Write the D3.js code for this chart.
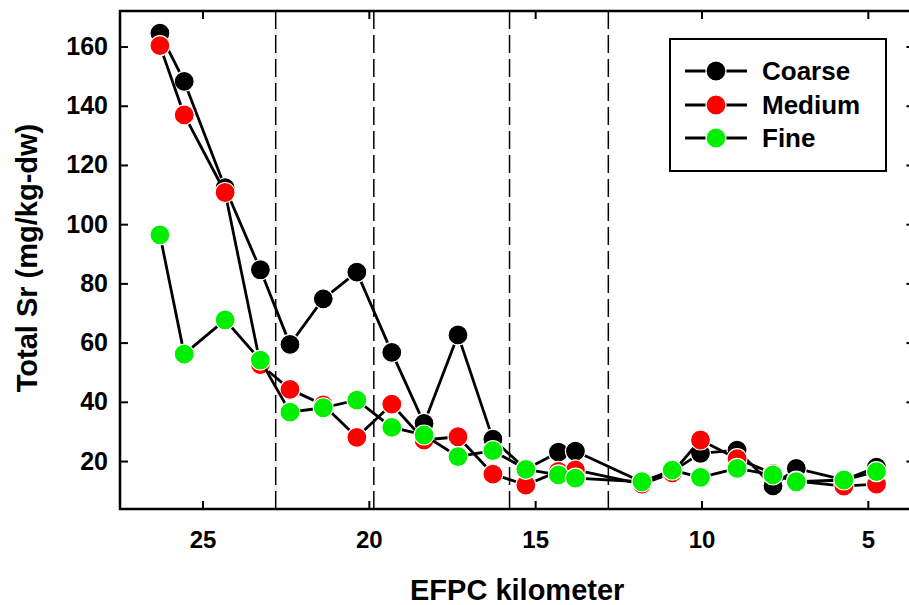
<!DOCTYPE html>
<html>
<head>
<meta charset="utf-8">
<script src="https://cdn.jsdelivr.net/npm/d3@7"></script>
<style>
  html, body { margin: 0; padding: 0; background: #fff; }
  svg { display: block; font-family: "Liberation Sans", Arial, sans-serif; font-weight: bold; }
</style>
</head>
<body>
<svg id="chart" width="909" height="605"></svg>
<script>
// ---- data ----
const km = [26.28, 25.55, 24.32, 23.26, 22.37, 21.37, 20.36, 19.31, 18.34, 17.32, 16.27,
            15.28, 14.30, 13.79, 11.79, 10.88, 10.03, 8.93, 7.85, 7.15, 5.72, 4.74];
const coarse = [164.5, 148.2, 112.3, 84.6, 59.4, 74.8, 83.8, 56.7, 32.7, 62.6, 27.4,
                17.2, 23.0, 23.3, 12.9, 16.5, 22.6, 23.7, 11.6, 17.5, 13.6, 17.9];
const medium = [160.3, 136.9, 110.7, 52.6, 44.2, 39.0, 28.0, 39.2, 27.1, 28.2, 15.6,
                11.9, 16.5, 17.0, 12.2, 16.0, 27.1, 20.8, 15.8, 13.2, 11.5, 12.2];
const fine = [96.4, 56.1, 67.7, 54.1, 36.5, 38.0, 40.6, 31.4, 28.8, 21.5, 23.5,
              17.2, 15.3, 14.2, 13.0, 16.9, 14.5, 17.5, 15.3, 13.0, 13.6, 16.4];
const seriesNames = ["Coarse", "Medium", "Fine"];
const seriesColors = ["#000000", "#ff0000", "#00ee00"];
const dividers = [22.8, 19.85, 15.77, 12.8];
const xTicks = [25, 20, 15, 10, 5];
const yTicks = [20, 40, 60, 80, 100, 120, 140, 160];
const xTitle = "EFPC kilometer";
const yTitle = "Total Sr (mg/kg-dw)";

(function () {
// ---- layout ----
const pLeft = 120, pRight = 914.4, pTop = 11, pBottom = 509;
const svg = d3.select("#chart");
svg.append("rect").attr("width", 909).attr("height", 605).attr("fill", "#fff");

const x = d3.scaleLinear().domain([27.48, 3.6]).range([pLeft, pRight]);
const y = d3.scaleLinear().domain([3.8, 172]).range([pBottom, pTop]);

// dashed dividers
svg.append("g").selectAll("line").data(dividers).join("line")
  .attr("x1", d => x(d)).attr("x2", d => x(d))
  .attr("y1", pTop).attr("y2", pBottom)
  .attr("stroke", "#000").attr("stroke-width", 1.5)
  .attr("stroke-dasharray", "18,6");

// axes
const tickLen = 8;
const gL = svg.append("g").attr("transform", `translate(${pLeft},0)`)
  .call(d3.axisLeft(y).tickValues(yTicks).tickSize(-tickLen).tickPadding(12));
const gB = svg.append("g").attr("transform", `translate(0,${pBottom})`)
  .call(d3.axisBottom(x).tickValues(xTicks).tickSize(-tickLen).tickPadding(22));
const gT = svg.append("g").attr("transform", `translate(0,${pTop})`)
  .call(d3.axisTop(x).tickValues(xTicks).tickSize(-tickLen).tickFormat(""));
const gR = svg.append("g").attr("transform", `translate(${pRight},0)`)
  .call(d3.axisRight(y).tickValues(yTicks).tickSize(-tickLen).tickFormat(""));
[gL, gB, gT, gR].forEach(g => {
  g.select(".domain").remove();
  g.selectAll(".tick line").attr("stroke", "#000").attr("stroke-width", 2);
  g.selectAll("text").attr("fill", "#000").attr("font-family", "Liberation Sans, Arial, sans-serif")
    .attr("font-weight", "bold");
});
gL.selectAll("text").attr("font-size", 25);
gB.selectAll("text").attr("font-size", 24);

// frame
svg.append("rect").attr("x", pLeft).attr("y", pTop)
  .attr("width", pRight - pLeft).attr("height", pBottom - pTop)
  .attr("fill", "none").attr("stroke", "#000").attr("stroke-width", 2.5);

// series
const allSeries = [coarse, medium, fine];
const line = d3.line().x(d => x(d[0])).y(d => y(d[1]));
allSeries.forEach((vals, i) => {
  const pts = km.map((k, j) => [k, vals[j]]);
  const g = svg.append("g");
  g.append("path").datum(pts).attr("d", line)
    .attr("fill", "none").attr("stroke", "#000").attr("stroke-width", 2.8)
    .attr("stroke-linejoin", "round");
  g.selectAll("circle").data(pts).join("circle")
    .attr("cx", d => x(d[0])).attr("cy", d => y(d[1])).attr("r", 10)
    .attr("fill", seriesColors[i]).attr("stroke", "#fff").attr("stroke-width", 1.2);
});

// titles
svg.append("text").attr("x", (pLeft + pRight) / 2).attr("y", 600)
  .attr("text-anchor", "middle").attr("font-size", 29).attr("fill", "#000").text(xTitle);
svg.append("text").attr("transform", `translate(37,258) rotate(-90)`)
  .attr("text-anchor", "middle").attr("font-size", 29).attr("fill", "#000").text(yTitle);

// legend
const lg = svg.append("g");
lg.append("rect").attr("x", 670).attr("y", 39).attr("width", 216).attr("height", 132)
  .attr("fill", "#fff").attr("stroke", "#000").attr("stroke-width", 2);
const rowY = [71, 105, 138];
seriesNames.forEach((name, i) => {
  lg.append("line").attr("x1", 685).attr("x2", 747).attr("y1", rowY[i]).attr("y2", rowY[i])
    .attr("stroke", "#000").attr("stroke-width", 2.8);
  lg.append("circle").attr("cx", 716).attr("cy", rowY[i]).attr("r", 10)
    .attr("fill", seriesColors[i]).attr("stroke", "#fff").attr("stroke-width", 1.2);
  lg.append("text").attr("x", 762).attr("y", rowY[i]).attr("dy", "0.36em")
    .attr("font-size", 26).attr("fill", "#000").text(name);
});
})();
</script>
</body>
</html>
